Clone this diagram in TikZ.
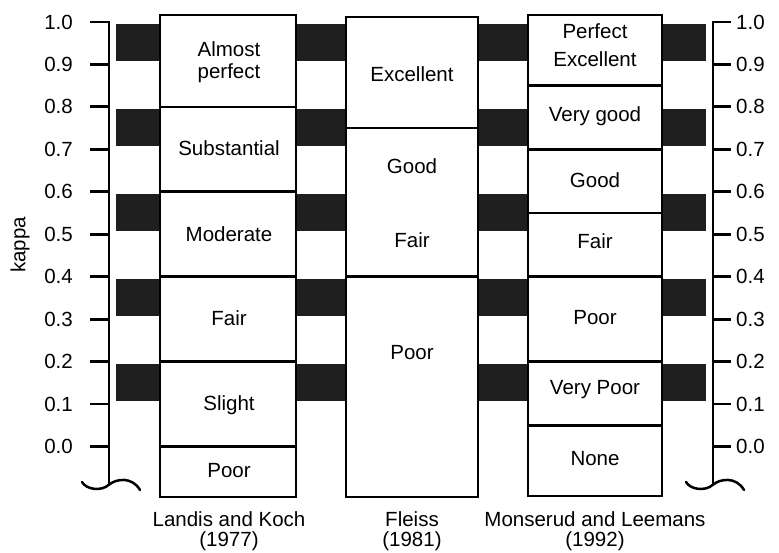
\documentclass[tikz,border=0pt]{standalone}
\usepackage{fontspec}
\setmainfont{Liberation Sans}
\begin{document}
\begin{tikzpicture}[x=1pt,y=424.5pt,
  blk/.style={fill=black!88},
  col/.style={draw=black, line width=2.6pt, fill=white},
  sep/.style={draw=black, line width=2.6pt},
  ax/.style={draw=black, line width=2.5pt},
  tk/.style={draw=black, line width=2.8pt},
  lbl/.style={font=\fontsize{20.5}{22}\selectfont, inner sep=0pt, align=center},
  captext/.style={font=\fontsize{20.5}{20}\selectfont, inner sep=0pt, align=center},
  num/.style={font=\fontsize{20.5}{22}\selectfont, inner sep=0pt}
]
\useasboundingbox (0,-0.2509) rectangle (779,1.0518);

% shaded bands
\foreach \lo in {0.1,0.3,0.5,0.7,0.9}{
  \foreach \xa/\xb in {116/160,296/346,478/528,662/706}{
    \fill[blk] (\xa,\lo+0.008) rectangle (\xb,\lo+0.095);
  }
}

% Landis and Koch column
\draw[col] (160,-0.119) rectangle (296,1.0165);
\foreach \k in {0.8,0.6,0.4,0.2,0.0}{\draw[sep] (160,\k) -- (296,\k);}
% Fleiss column
\draw[col] (346,-0.119) rectangle (478,1.012);
\foreach \k in {0.75,0.4}{\draw[sep] (346,\k) -- (478,\k);}
% Monserud and Leemans column
\draw[col] (528,-0.1166) rectangle (662,1.0165);
\foreach \k in {0.85,0.7,0.55,0.4,0.2,0.05}{\draw[sep] (528,\k) -- (662,\k);}

% left axis
\coordinate (LT) at (109,1);
\coordinate (LB) at (109,-0.088);
\draw[ax] (90,1) -- (LT) -- (LB);
\foreach \k/\t in {0/0.0,0.1/0.1,0.2/0.2,0.3/0.3,0.4/0.4,0.5/0.5,0.6/0.6,0.7/0.7,0.8/0.8,0.9/0.9,1/1.0}{
  \draw[tk] (90,\k) -- (109,\k);
  \node[num, anchor=east] (l\t) at (73,\k) {\t};
}
\draw[ax, line cap=round] (82,-0.0836) .. controls (86,-0.101) and (101,-0.107) .. (109,-0.090)
  .. controls (116,-0.076) and (132,-0.070) .. (140,-0.1025);

% right axis
\coordinate (RT) at (713,1);
\coordinate (RB) at (713,-0.088);
\draw[ax] (731,1) -- (RT) -- (RB);
\foreach \k/\t in {0/0.0,0.1/0.1,0.2/0.2,0.3/0.3,0.4/0.4,0.5/0.5,0.6/0.6,0.7/0.7,0.8/0.8,0.9/0.9,1/1.0}{
  \draw[tk] (713,\k) -- (731,\k);
  \node[num, anchor=west] (r\t) at (736,\k) {\t};
}
\draw[ax, line cap=round] (686,-0.0836) .. controls (690,-0.101) and (705,-0.107) .. (713,-0.090)
  .. controls (720,-0.076) and (736,-0.070) .. (744,-0.1025);

\node[lbl, rotate=90] (kappa) at (20,0.4747) {kappa};

% Landis and Koch labels
\node[lbl] (lk1) at (229,0.905) {Almost\\perfect};
\node[lbl] (lk2) at (229,0.7032) {Substantial};
\node[lbl] (lk3) at (229,0.5006) {Moderate};
\node[lbl] (lk4) at (229,0.3027) {Fair};
\node[lbl] (lk5) at (229,0.0978) {Slight};
\node[lbl] (lk6) at (229,-0.0577) {Poor};

% Fleiss labels
\node[lbl] (f1) at (412,0.8775) {Excellent};
\node[lbl] (f2) at (412,0.6608) {Good};
\node[lbl] (f3) at (412,0.4864) {Fair};
\node[lbl] (f4) at (412,0.2203) {Poor};

% Monserud and Leemans labels
\node[lbl, font=\fontsize{20.5}{28}\selectfont] (m1) at (595,0.9458) {Perfect\\Excellent};
\node[lbl] (m2) at (595,0.7786) {Very good};
\node[lbl] (m3) at (595,0.6278) {Good};
\node[lbl] (m4) at (595,0.4841) {Fair};
\node[lbl] (m5) at (595,0.3027) {Poor};
\node[lbl] (m6) at (595,0.1331) {Very Poor};
\node[lbl] (m7) at (595,-0.0294) {None};

% column captions
\node[captext] (c1) at (229,-0.199) {Landis and Koch\\(1977)};
\node[captext] (c2) at (412,-0.199) {Fleiss\\(1981)};
\node[captext] (c3) at (595,-0.199) {Monserud and Leemans\\(1992)};
\end{tikzpicture}
\end{document}
